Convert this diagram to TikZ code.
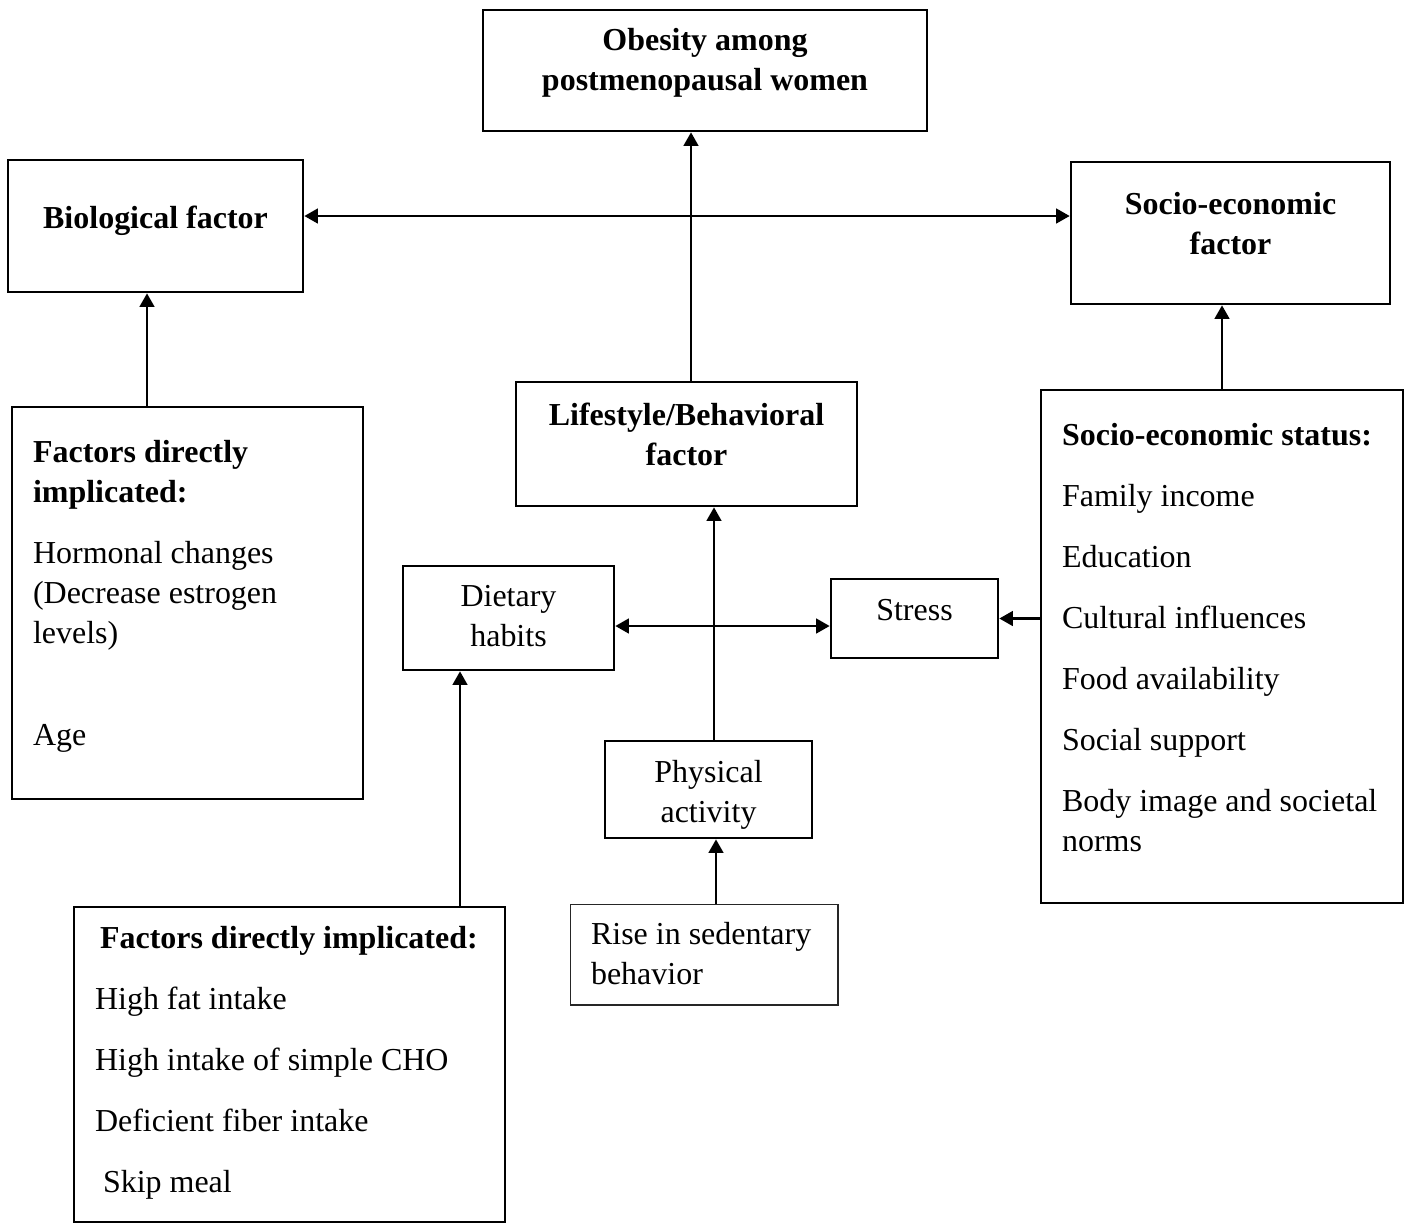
\documentclass[tikz,border=0pt]{standalone}
\usepackage{fontspec}
\setmainfont{Liberation Serif}
\usetikzlibrary{arrows.meta}

\begin{document}
\begin{tikzpicture}[x=0.02cm,y=-0.02cm,
  every node/.style={font=\fontsize{18.2}{22.8}\selectfont},
  box/.style={draw,line width=1.5pt,inner sep=0pt},
  thinbox/.style={draw=black!85,line width=0.6pt,inner sep=0pt},
  txt/.style={inner sep=0pt,align=center},
  listtxt/.style={inner sep=0pt,align=flush left},
  link/.style={line width=1.5pt,-{Triangle[length=0.27cm,width=0.29cm]}},
  dlink/.style={line width=1.5pt,{Triangle[length=0.27cm,width=0.29cm]}-{Triangle[length=0.27cm,width=0.29cm]}}]
\useasboundingbox (0,0) rectangle (1412,1225);
\node[box,minimum width=8.88cm,minimum height=2.42cm] (obes) at (705,70.5) {};
\node[txt] (obestxt) at (705,62.5) {\textbf{Obesity among}\\\textbf{postmenopausal women}};
\node[box,minimum width=5.9cm,minimum height=2.64cm] (bio) at (155.5,226) {};
\node[txt] (biotxt) at (155.5,221) {\textbf{Biological factor}};
\node[box,minimum width=6.38cm,minimum height=2.84cm] (socf) at (1230.5,233) {};
\node[txt] (socftxt) at (1230.5,224) {\textbf{Socio-economic}\\\textbf{factor}};
\node[box,minimum width=7.02cm,minimum height=7.84cm] (biofac) at (187.5,603) {};
\node[listtxt,text width=6.18cm] (biofactxt) at (187.5,596.5) {\textbf{Factors directly}\\\textbf{implicated:}\\[0.42cm]Hormonal changes\\(Decrease estrogen\\levels)\\[1.24cm]Age};
\node[box,minimum width=6.82cm,minimum height=2.48cm] (life) at (686.5,444) {};
\node[txt] (lifetxt) at (686.5,434.5) {\textbf{Lifestyle/Behavioral}\\\textbf{factor}};
\node[box,minimum width=7.24cm,minimum height=10.26cm] (socst) at (1222,646.5) {};
\node[listtxt,text width=6.4cm] (socsttxt) at (1222,637.5) {\textbf{Socio-economic status:}\\[0.42cm]Family income\\[0.42cm]Education\\[0.42cm]Cultural influences\\[0.42cm]Food availability\\[0.42cm]Social support\\[0.42cm]Body image and societal\\norms};
\node[box,minimum width=4.22cm,minimum height=2.08cm] (diet) at (508.5,618) {};
\node[txt] (diettxt) at (508.5,616) {Dietary\\habits};
\node[box,minimum width=3.34cm,minimum height=1.58cm] (stress) at (914.5,618.5) {};
\node[txt] (stresstxt) at (914.5,610.5) {Stress};
\node[box,minimum width=4.14cm,minimum height=1.94cm] (phys) at (708.5,789.5) {};
\node[txt] (phystxt) at (708.5,794.5) {Physical\\activity};
\node[thinbox,minimum width=5.36cm,minimum height=2.02cm] (rise) at (704,954.5) {};
\node[listtxt,text width=4.52cm] (risetxt) at (704,953.5) {Rise in sedentary\\behavior};
\node[box,minimum width=8.62cm,minimum height=6.3cm] (dietfac) at (289.5,1064.5) {};
\node[listtxt,text width=7.78cm] (dietfactxt) at (289.5,1062.5) {\hspace*{0.1cm}\textbf{Factors directly implicated:}\\[0.42cm]High fat intake\\[0.42cm]High intake of simple CHO\\[0.42cm]Deficient fiber intake\\[0.42cm]\hspace*{0.16cm}Skip meal};
\draw[link] ([xshift=0.09cm]life.north) -- ([xshift=0.09cm]life.north |- obes.south);
\draw[dlink] ([yshift=0.2cm]bio.east) -- ([yshift=0.2cm]bio.east -| socf.west);
\draw[link] ([xshift=-0.17cm]bio.south |- biofac.north) -- ([xshift=-0.17cm]bio.south);
\draw[link] (socst.north) -- (socst.north |- socf.south);
\draw[link] ([xshift=0.11cm]phys.north) -- ([xshift=0.11cm]phys.north |- life.south);
\draw[dlink] ([yshift=-0.16cm]diet.east) -- ([yshift=-0.16cm]diet.east -| stress.west);
\draw[link] (socst.west |- stress.east) -- (stress.east);
\draw[link] ([xshift=-0.97cm]diet.south |- dietfac.north) -- ([xshift=-0.97cm]diet.south);
\draw[link] ([xshift=0.15cm]phys.south |- rise.north) -- ([xshift=0.15cm]phys.south);
\end{tikzpicture}
\end{document}
